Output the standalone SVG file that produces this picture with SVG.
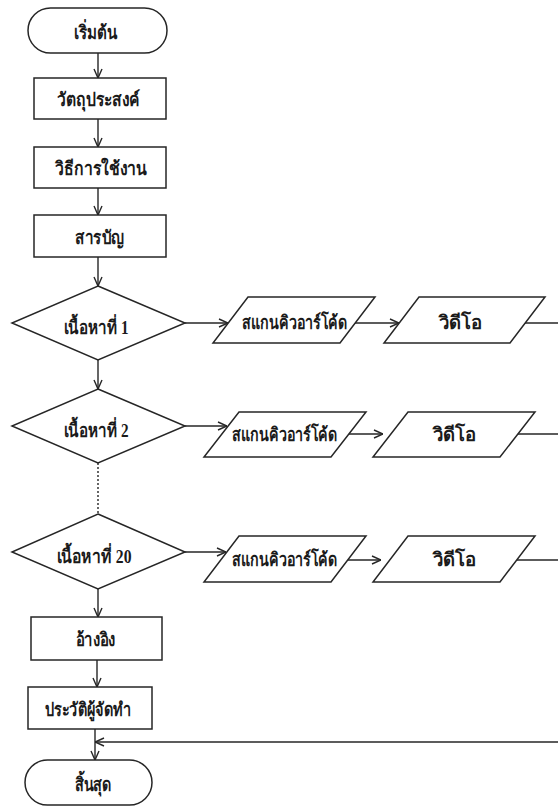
<svg xmlns="http://www.w3.org/2000/svg" width="558" height="807" viewBox="0 0 558 807">
<defs>
<style>
.s{fill:#fff;stroke:#262626;stroke-width:1.5}
.c{fill:none;stroke:#262626;stroke-width:1.4}
.t{font-family:'Liberation Serif','DejaVu Serif','Noto Sans',serif;font-weight:bold;font-size:19px;fill:#1a1a1a;text-anchor:middle;dominant-baseline:central}
</style>
<marker id="ah" viewBox="0 0 10 10" refX="10" refY="5" markerWidth="10" markerHeight="10" markerUnits="userSpaceOnUse" orient="auto">
<path d="M1,1 L10,5 L1,9" fill="none" stroke="#262626" stroke-width="1.4"/>
</marker>
</defs>
<rect width="558" height="807" fill="#fff"/>
<g id="connectors">
<line class="c" x1="98" y1="53" x2="98" y2="78" marker-end="url(#ah)"/>
<line class="c" x1="98" y1="119" x2="98" y2="147" marker-end="url(#ah)"/>
<line class="c" x1="98" y1="188" x2="98" y2="215" marker-end="url(#ah)"/>
<line class="c" x1="98" y1="257" x2="98" y2="286" marker-end="url(#ah)"/>
<line class="c" x1="98" y1="360" x2="98" y2="389" marker-end="url(#ah)"/>
<line class="c" x1="98" y1="463" x2="98" y2="514" stroke-dasharray="2,2"/>
<line class="c" x1="98" y1="589" x2="98" y2="617" marker-end="url(#ah)"/>
<line class="c" x1="97" y1="660" x2="97" y2="687" marker-end="url(#ah)"/>
<line class="c" x1="95" y1="729" x2="95" y2="760" marker-end="url(#ah)"/>
<line class="c" x1="558" y1="742" x2="95" y2="742" marker-end="url(#ah)"/>
<line class="c" x1="185" y1="323" x2="228" y2="323" marker-end="url(#ah)"/>
<line class="c" x1="355" y1="323" x2="399" y2="323" marker-end="url(#ah)"/>
<line class="c" x1="525" y1="323" x2="558" y2="323"/>
<line class="c" x1="185" y1="426" x2="227" y2="426" marker-end="url(#ah)"/>
<line class="c" x1="341" y1="434" x2="383" y2="434" marker-end="url(#ah)"/>
<line class="c" x1="510" y1="434" x2="558" y2="434"/>
<line class="c" x1="185" y1="552" x2="226" y2="552" marker-end="url(#ah)"/>
<line class="c" x1="339" y1="560" x2="381" y2="560" marker-end="url(#ah)"/>
<line class="c" x1="508" y1="560" x2="558" y2="560"/>
</g>
<g id="start"><rect class="s" x="28" y="8" width="139" height="45" rx="22.5"/><text class="t" x="95.5" y="32" textLength="43" lengthAdjust="spacingAndGlyphs">เริ่มต้น</text></g>
<g id="objective"><rect class="s" x="34" y="78" width="132" height="41"/><text class="t" x="98.5" y="99" textLength="83" lengthAdjust="spacingAndGlyphs">วัตถุประสงค์</text></g>
<g id="usage"><rect class="s" x="34" y="147" width="132" height="41"/><text class="t" x="101" y="168" textLength="92" lengthAdjust="spacingAndGlyphs">วิธีการใช้งาน</text></g>
<g id="toc"><rect class="s" x="34" y="215" width="132" height="42"/><text class="t" x="99.5" y="237" textLength="49" lengthAdjust="spacingAndGlyphs">สารบัญ</text></g>
<g id="content1"><polygon class="s" points="98,286 185,323 98,360 12,323"/><text class="t" x="96" y="327" textLength="65" lengthAdjust="spacingAndGlyphs">เนื้อหาที่ 1</text></g>
<g id="scan1"><polygon class="s" points="248,297 375,297 340,343 213,343"/><text class="t" x="294.5" y="322" textLength="105" lengthAdjust="spacingAndGlyphs">สแกนคิวอาร์โค้ด</text></g>
<g id="video1"><polygon class="s" points="419,297 545,297 510,343 384,343"/><text class="t" x="460" y="322" textLength="43" lengthAdjust="spacingAndGlyphs">วิดีโอ</text></g>
<g id="content2"><polygon class="s" points="98,389 185,426 98,463 12,426"/><text class="t" x="96" y="430" textLength="65" lengthAdjust="spacingAndGlyphs">เนื้อหาที่ 2</text></g>
<g id="scan2"><polygon class="s" points="239,412 366,412 331,457 204,457"/><text class="t" x="284.5" y="434" textLength="105" lengthAdjust="spacingAndGlyphs">สแกนคิวอาร์โค้ด</text></g>
<g id="video2"><polygon class="s" points="408,412 535,412 500,457 373,457"/><text class="t" x="454" y="434" textLength="43" lengthAdjust="spacingAndGlyphs">วิดีโอ</text></g>
<g id="content20"><polygon class="s" points="98,514 185,552 98,589 12,552"/><text class="t" x="94" y="556" textLength="75" lengthAdjust="spacingAndGlyphs">เนื้อหาที่ 20</text></g>
<g id="scan20"><polygon class="s" points="239,536 366,536 331,582 204,582"/><text class="t" x="284.5" y="559" textLength="105" lengthAdjust="spacingAndGlyphs">สแกนคิวอาร์โค้ด</text></g>
<g id="video20"><polygon class="s" points="408,536 535,536 500,582 373,582"/><text class="t" x="454" y="559" textLength="43" lengthAdjust="spacingAndGlyphs">วิดีโอ</text></g>
<g id="reference"><rect class="s" x="31" y="617" width="131" height="43"/><text class="t" x="95.5" y="639" textLength="40" lengthAdjust="spacingAndGlyphs">อ้างอิง</text></g>
<g id="author"><rect class="s" x="28" y="687" width="124" height="42"/><text class="t" x="88" y="709" textLength="86" lengthAdjust="spacingAndGlyphs">ประวัติผู้จัดทำ</text></g>
<g id="end"><rect class="s" x="25" y="760" width="127" height="45" rx="22.5"/><text class="t" x="93" y="784" textLength="37" lengthAdjust="spacingAndGlyphs">สิ้นสุด</text></g>
</svg>
